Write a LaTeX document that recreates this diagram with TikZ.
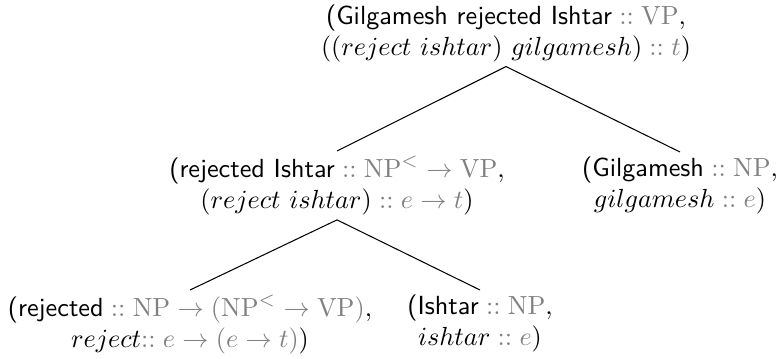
\documentclass[tikz,border=0pt]{standalone}
\usepackage{tikz}

\colorlet{typegray}{black!50}
\newcommand{\ty}[1]{\;{\color{typegray}{::}}\;{\color{typegray}#1}}

\begin{document}
\begin{tikzpicture}[x=0.3817pt,y=0.3817pt,yscale=-1,xscale=1]
\tikzset{treenode/.style={anchor=north,align=center,inner xsep=0pt,inner ysep=1.5pt}}
\useasboundingbox (0,0) rectangle (780,358);

% Text Node
\node (root) at (506,0) [treenode] {\textsf{(Gilgamesh rejected Ishtar}$\ty{\mathrm{VP}},$\\ $((reject\ ishtar)\ gilgamesh)\ty{t})$};
% Text Node
\node (vp) at (337,151) [treenode] {\textsf{(rejected Ishtar}$\ty{\mathrm{NP}^{<}\rightarrow\mathrm{VP}},$\\ $(reject\ ishtar)\ty{e\rightarrow t})$};
% Text Node
\node (subj) at (680,152) [treenode] {\textsf{(Gilgamesh}$\ty{\mathrm{NP}},$\\ $gilgamesh\ty{e})$};
% Text Node
\node (verb) at (190,290) [treenode] {\textsf{(rejected}$\ty{\mathrm{NP}\rightarrow(\mathrm{NP}^{<}\rightarrow\mathrm{VP})},$\\ $reject{\color{typegray}{::}}\;{\color{typegray}e\rightarrow(e\rightarrow t)})$};
% Text Node
\node (obj) at (480,290) [treenode] {\textsf{(Ishtar}$\ty{\mathrm{NP}},$\\ $ishtar\ty{e})$};

%Straight Lines
\draw (root.south) -- (vp.north) ;
\draw (root.south) -- (subj.north) ;
%Straight Lines
\draw (vp.south) -- (verb.north) ;
\draw (vp.south) -- (obj.north) ;

\end{tikzpicture}
\end{document}
